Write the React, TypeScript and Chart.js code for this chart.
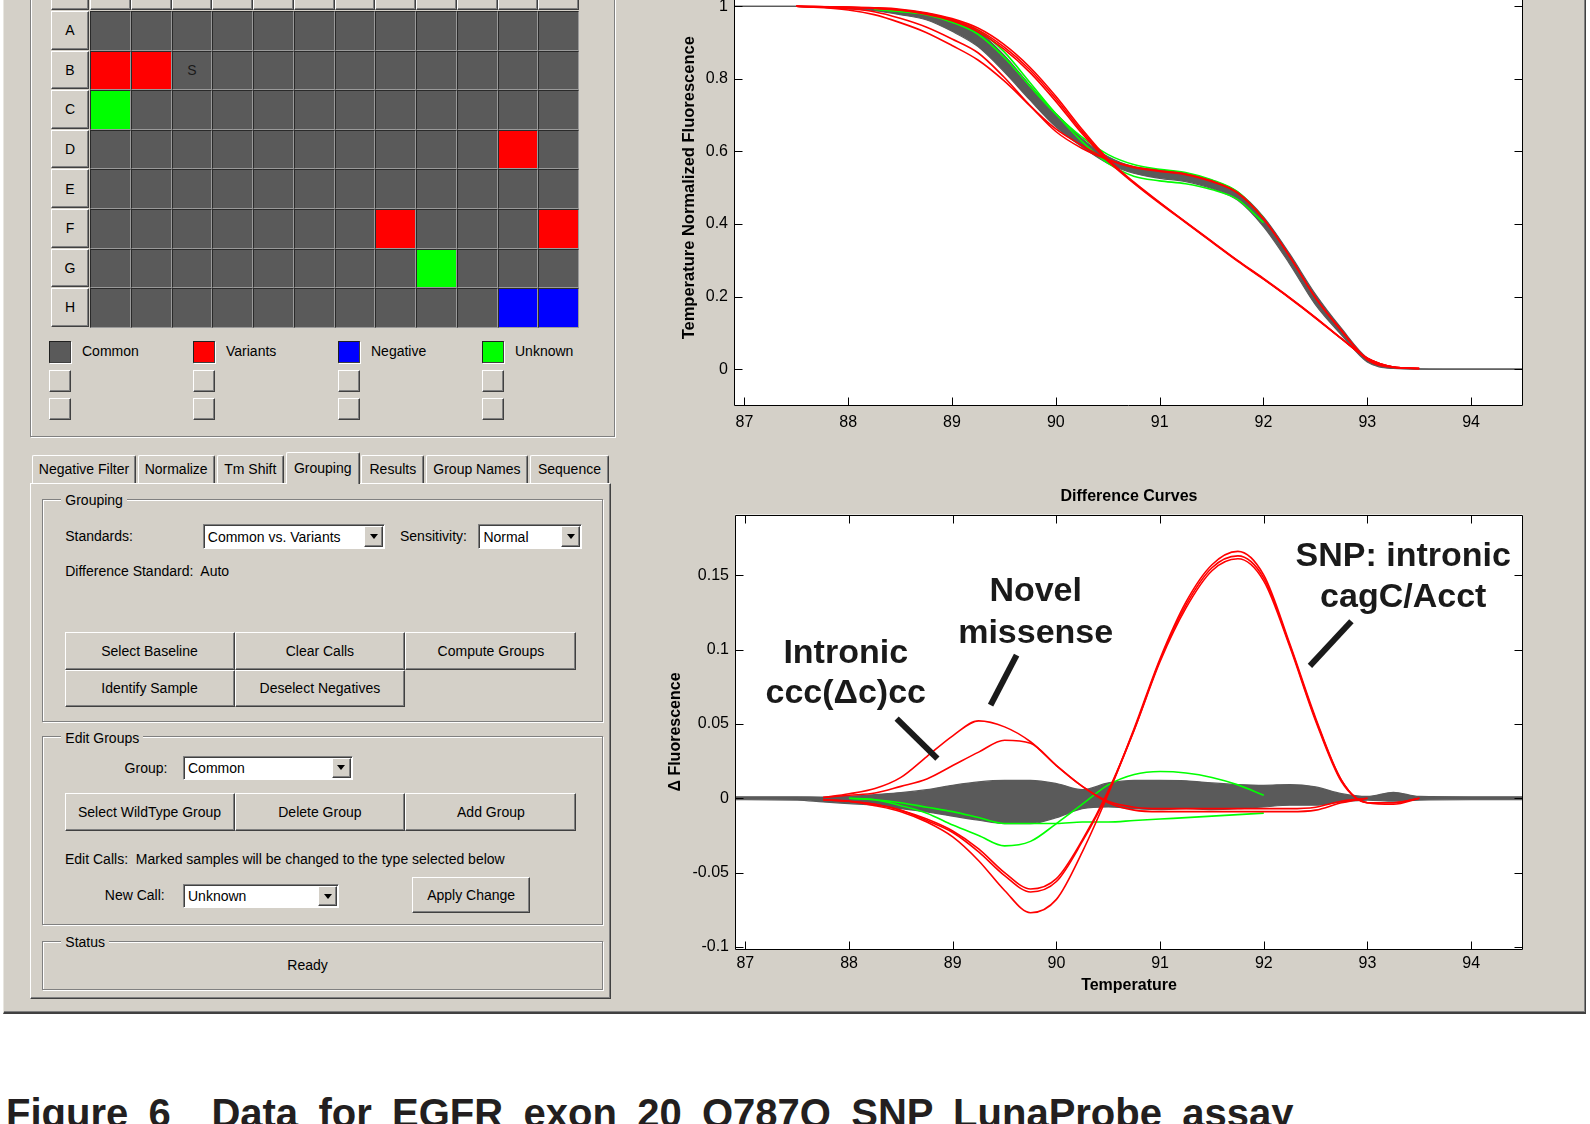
import React, { useEffect, useRef } from "react";
import { Chart, registerables } from "chart.js";

Chart.register(...registerables);

// ---------------- data: melt curves (top chart) ----------------
const topTemps = [86.9, 87.5, 88, 88.25, 88.5, 88.75, 89, 89.25, 89.5, 89.75, 90, 90.25, 90.5, 90.75, 91, 91.25, 91.5, 91.75, 92, 92.25, 92.5, 92.75, 93, 93.25, 93.5, 94, 94.5];
const topCommonHi = [1, 1, 0.997, 0.994, 0.99, 0.981, 0.963, 0.931, 0.866, 0.783, 0.705, 0.636, 0.586, 0.558, 0.549, 0.54, 0.521, 0.489, 0.42, 0.319, 0.207, 0.113, 0.031, 0.006, 0.001, 0, 0];
const topCommonLo = [1, 1, 0.993, 0.988, 0.977, 0.963, 0.931, 0.889, 0.82, 0.742, 0.668, 0.613, 0.567, 0.54, 0.526, 0.517, 0.498, 0.466, 0.393, 0.291, 0.178, 0.095, 0.02, 0.002, 0, 0, 0];
const topSnpA = [null, 1, 0.998, 0.996, 0.992, 0.982, 0.966, 0.94, 0.895, 0.832, 0.752, 0.662, 0.58, 0.516, 0.46, 0.406, 0.353, 0.3, 0.25, 0.198, 0.143, 0.085, 0.03, 0.006, 0.002, null, null];
const topSnpB = [null, 1, 0.997, 0.994, 0.989, 0.978, 0.96, 0.93, 0.882, 0.818, 0.738, 0.65, 0.574, 0.513, 0.457, 0.404, 0.351, 0.298, 0.248, 0.196, 0.141, 0.084, 0.03, 0.006, 0.002, null, null];
const topSnpC = [null, 1, 0.997, 0.995, 0.99, 0.98, 0.963, 0.935, 0.888, 0.825, 0.745, 0.656, 0.577, 0.514, 0.459, 0.405, 0.352, 0.299, 0.249, 0.197, 0.142, 0.084, 0.03, 0.006, 0.002, null, null];
const topIntronic = [null, 1, 0.99, 0.977, 0.955, 0.928, 0.892, 0.852, 0.795, 0.726, 0.655, 0.609, 0.578, 0.558, 0.547, 0.538, 0.519, 0.487, 0.415, 0.312, 0.198, 0.108, 0.028, 0.006, 0.002, null, null];
const topNovel = [null, 1, 0.994, 0.985, 0.967, 0.943, 0.91, 0.872, 0.805, 0.727, 0.662, 0.617, 0.578, 0.556, 0.545, 0.536, 0.517, 0.485, 0.414, 0.312, 0.197, 0.106, 0.026, 0.005, 0.002, null, null];
const topUnknown1 = [null, null, null, 0.992, 0.986, 0.979, 0.962, 0.934, 0.875, 0.79, 0.704, 0.628, 0.568, 0.532, 0.519, 0.511, 0.495, 0.468, 0.404, null, null, null, null, null, null, null, null];
const topUnknown2 = [null, null, null, 0.992, 0.986, 0.977, 0.956, 0.923, 0.86, 0.78, 0.703, 0.64, 0.592, 0.564, 0.551, 0.542, 0.522, 0.489, 0.417, null, null, null, null, null, null, null, null];

// ---------------- data: difference curves (bottom chart) ----------------
const diffTemps = [86.9, 87.5, 87.75, 88, 88.25, 88.5, 88.75, 89, 89.25, 89.5, 89.75, 90, 90.25, 90.5, 90.75, 91, 91.25, 91.5, 91.75, 92, 92.25, 92.5, 92.75, 93, 93.25, 93.5, 94, 94.5];
const diffCommonHi = [0.001, 0.001, 0.0008, 0.0013, 0.0025, 0.0038, 0.0058, 0.0087, 0.011, 0.012, 0.012, 0.0099, 0.0058, 0.0103, 0.012, 0.012, 0.0117, 0.0103, 0.0092, 0.0087, 0.0092, 0.0076, 0.0031, 0.0012, 0.004, 0.0012, 0.001, 0.001];
const diffCommonLo = [-0.001, -0.0012, -0.0025, -0.0036, -0.0047, -0.007, -0.0092, -0.0121, -0.0148, -0.017, -0.017, -0.013, -0.007, -0.0058, -0.007, -0.0076, -0.007, -0.0076, -0.007, -0.0058, -0.0047, -0.0047, -0.0025, -0.0012, -0.002, -0.0012, -0.001, -0.001];
const diffSnpA = [null, null, -0.001, -0.002, -0.005, -0.009, -0.016, -0.026, -0.042, -0.062, -0.077, -0.068, -0.036, 0.003, 0.047, 0.094, 0.132, 0.157, 0.166, 0.15, 0.104, 0.054, 0.012, -0.003, -0.003, 0, null, null];
const diffSnpB = [null, null, -0.001, -0.002, -0.004, -0.008, -0.014, -0.022, -0.034, -0.05, -0.061, -0.054, -0.028, 0.005, 0.046, 0.092, 0.128, 0.153, 0.161, 0.146, 0.102, 0.052, 0.011, -0.003, -0.004, 0, null, null];
const diffSnpC = [null, null, -0.001, -0.002, -0.004, -0.008, -0.015, -0.023, -0.036, -0.052, -0.063, -0.056, -0.029, 0.004, 0.046, 0.093, 0.13, 0.155, 0.163, 0.148, 0.103, 0.053, 0.012, -0.003, -0.003, 0, null, null];
const diffIntronic = [null, null, 0.0005, 0.003, 0.0065, 0.014, 0.028, 0.042, 0.052, 0.048, 0.038, 0.022, 0.008, -0.003, -0.008, -0.009, -0.009, -0.009, -0.009, -0.009, -0.009, -0.008, -0.003, 0, null, null, null, null];
const diffNovel = [null, null, 0.0005, 0.002, 0.0035, 0.008, 0.013, 0.022, 0.031, 0.039, 0.037, 0.022, 0.008, -0.002, -0.006, -0.007, -0.007, -0.007, -0.007, -0.007, -0.007, -0.006, -0.002, 0, null, null, null, null];
const diffUnknown1 = [null, null, null, 0, -0.001, -0.005, -0.01, -0.018, -0.025, -0.032, -0.029, -0.017, -0.004, 0.009, 0.016, 0.018, 0.017, 0.014, 0.009, 0.002, null, null, null, null, null, null, null, null];
const diffUnknown2 = [null, null, null, 0, -0.001, -0.003, -0.006, -0.009, -0.013, -0.017, -0.017, -0.017, -0.016, -0.016, -0.015, -0.014, -0.013, -0.012, -0.011, -0.01, null, null, null, null, null, null, null, null];

// ---------------- ticks ----------------
const tempTicks = [87, 88, 89, 90, 91, 92, 93, 94];
const meltTicks = [0, 0.2, 0.4, 0.6, 0.8, 1];
const diffTicks = [-0.1, -0.05, 0, 0.05, 0.1, 0.15];

// ---------------- annotations (data units) ----------------
const noteLabels = [
  { text: "SNP: intronic", t: 93.345, d: 0.1565 },
  { text: "cagC/Acct", t: 93.345, d: 0.1287 },
  { text: "Novel", t: 89.8, d: 0.1328 },
  { text: "missense", t: 89.8, d: 0.1045 },
  { text: "Intronic", t: 87.968, d: 0.0912 },
  { text: "ccc(\u0394c)cc", t: 87.968, d: 0.0641 },
];
const notePointers = [
  [89.616, 0.0962, 89.365, 0.0626],
  [88.459, 0.0536, 88.852, 0.0267],
  [92.845, 0.119, 92.445, 0.089],
];

// ---------------- plate ----------------
const plateRows = ["A", "B", "C", "D", "E", "F", "G", "H"];
const plateCalls = [
  "CCCCCCCCCCCC",
  "VVCCCCCCCCCC",
  "UCCCCCCCCCCC",
  "CCCCCCCCCCVC",
  "CCCCCCCCCCCC",
  "CCCCCCCVCCCV",
  "CCCCCCCCUCCC",
  "CCCCCCCCCCNN",
];
const legendItems = [
  { key: "C", label: "Common" },
  { key: "V", label: "Variants" },
  { key: "N", label: "Negative" },
  { key: "U", label: "Unknown" },
];
const tabItems = ["Negative Filter", "Normalize", "Tm Shift", "Grouping", "Results", "Group Names", "Sequence"];

// ---------------- styles ----------------
const FONT = '"Liberation Sans", Arial, Helvetica, sans-serif';
const RED = "#ff0000";
const GREEN = "#00ff00";
const GRAY = "#5a5a5a";
const WIN = "#d4d0c8";
const CALL_COLORS: Record<string, string> = { C: "#5a5a5a", V: "#ff0000", N: "#0000ff", U: "#00ff00" };

function pts(xs: number[], ys: (number | null)[]) {
  const out: { x: number; y: number }[] = [];
  xs.forEach((x, i) => {
    const y = ys[i];
    if (y !== null && y !== undefined) out.push({ x, y });
  });
  return out;
}

function curve(xs: number[], ys: (number | null)[], color: string, order: number) {
  return { data: pts(xs, ys), borderColor: color, borderWidth: 1.6, fill: false, order };
}

const matlabAxes = {
  id: "matlabAxes",
  beforeDatasetsDraw(chart: any) {
    const { ctx, chartArea: a } = chart;
    ctx.save();
    ctx.fillStyle = "#fff";
    ctx.fillRect(a.left, a.top, a.right - a.left, a.bottom - a.top);
    ctx.restore();
  },
  afterDatasetsDraw(chart: any) {
    const { ctx, chartArea: a, scales } = chart;
    const xs = scales.x;
    const ys = scales.y;
    const L = Math.round(a.left) + 0.5;
    const R = Math.round(a.right) - 0.5;
    const T = Math.round(a.top) + 0.5;
    const B = Math.round(a.bottom) - 0.5;
    ctx.save();
    ctx.strokeStyle = "#000";
    ctx.lineWidth = 1;
    ctx.beginPath();
    ctx.rect(L, T, R - L, B - T);
    xs.ticks.forEach((t: any) => {
      const p = Math.round(xs.getPixelForValue(t.value)) + 0.5;
      ctx.moveTo(p, B);
      ctx.lineTo(p, B - 8);
      ctx.moveTo(p, T);
      ctx.lineTo(p, T + 8);
    });
    ys.ticks.forEach((t: any) => {
      const p = Math.round(ys.getPixelForValue(t.value)) + 0.5;
      ctx.moveTo(L, p);
      ctx.lineTo(L + 8, p);
      ctx.moveTo(R, p);
      ctx.lineTo(R - 8, p);
    });
    ctx.stroke();
    ctx.restore();
  },
};

const diffNotes = {
  id: "diffNotes",
  afterDatasetsDraw(chart: any) {
    const { ctx, scales } = chart;
    const x = scales.x;
    const y = scales.y;
    ctx.save();
    ctx.strokeStyle = "#1a1a1a";
    ctx.lineWidth = 6;
    ctx.lineCap = "butt";
    notePointers.forEach((l) => {
      ctx.beginPath();
      ctx.moveTo(x.getPixelForValue(l[0]), y.getPixelForValue(l[1]));
      ctx.lineTo(x.getPixelForValue(l[2]), y.getPixelForValue(l[3]));
      ctx.stroke();
    });
    ctx.fillStyle = "#1a1a1a";
    ctx.font = `bold 34px ${FONT}`;
    ctx.textAlign = "center";
    ctx.textBaseline = "alphabetic";
    noteLabels.forEach((n) => ctx.fillText(n.text, x.getPixelForValue(n.t), y.getPixelForValue(n.d)));
    ctx.restore();
  },
};

function baseOptions(yMin: number, yMax: number, yTicks: number[], yWidth: number, xHeight: number, xPad: number) {
  return {
    animation: false,
    responsive: false,
    devicePixelRatio: 1,
    events: [],
    elements: { point: { radius: 0 }, line: { cubicInterpolationMode: "monotone", borderJoinStyle: "round" } },
    plugins: { legend: { display: false }, tooltip: { enabled: false } },
    scales: {
      x: {
        type: "linear",
        min: 86.9,
        max: 94.5,
        afterBuildTicks: (s: any) => { s.ticks = tempTicks.map((v) => ({ value: v })); },
        afterFit: (s: any) => { s.height = xHeight; },
        grid: { display: false, drawTicks: false },
        border: { display: false },
        ticks: { color: "#000", font: { family: FONT, size: 16 }, padding: xPad, autoSkip: false, maxRotation: 0, callback: (v: any) => String(v) },
      },
      y: {
        type: "linear",
        min: yMin,
        max: yMax,
        afterBuildTicks: (s: any) => { s.ticks = yTicks.map((v) => ({ value: v })); },
        afterFit: (s: any) => { s.width = yWidth; },
        grid: { display: false, drawTicks: false },
        border: { display: false },
        ticks: { color: "#000", font: { family: FONT, size: 16 }, padding: 6, autoSkip: false, callback: (v: any) => String(v) },
      },
    },
  } as any;
}

function makeTop(canvas: HTMLCanvasElement) {
  const options = baseOptions(-0.1, 1.1, meltTicks, 94, 44.5, 7);
  options.layout = { padding: { top: 16, right: 17, left: 0, bottom: 0 } };
  options.scales.y.title = {
    display: true,
    text: "Temperature Normalized Fluorescence",
    color: "#000",
    font: { family: FONT, size: 16.5, weight: "bold" },
    padding: { top: 40, bottom: 0 },
  };
  return new Chart(canvas, {
    type: "line",
    data: {
      datasets: [
        curve(topTemps, topSnpA, RED, 0),
        curve(topTemps, topSnpB, RED, 0),
        curve(topTemps, topSnpC, RED, 0),
        curve(topTemps, topIntronic, RED, 0),
        curve(topTemps, topNovel, RED, 0),
        curve(topTemps, topUnknown1, GREEN, 1),
        curve(topTemps, topUnknown2, GREEN, 1),
        { data: pts(topTemps, topCommonHi), borderColor: GRAY, borderWidth: 1.2, fill: false, order: 2 },
        { data: pts(topTemps, topCommonLo), borderColor: GRAY, borderWidth: 1.2, backgroundColor: GRAY, fill: "-1", order: 2 },
      ],
    } as any,
    options,
    plugins: [matlabAxes],
  });
}

function makeDiff(canvas: HTMLCanvasElement) {
  const options = baseOptions(-0.1017, 0.1908, diffTicks, 95, 50.5, 4);
  options.layout = { padding: { top: 0, right: 17, left: 0, bottom: 0 } };
  options.plugins.title = {
    display: true,
    text: "Difference Curves",
    fullSize: false,
    color: "#000",
    font: { family: FONT, size: 16, weight: "bold" },
    padding: { top: 16.9, bottom: 8.4 },
  };
  options.scales.x.title = {
    display: true,
    text: "Temperature",
    color: "#000",
    font: { family: FONT, size: 16, weight: "bold" },
    padding: { top: 0, bottom: 5 },
  };
  options.scales.y.title = {
    display: true,
    text: "\u0394 Fluorescence",
    color: "#000",
    font: { family: FONT, size: 16, weight: "bold" },
    padding: { top: 26.4, bottom: 0 },
  };
  return new Chart(canvas, {
    type: "line",
    data: {
      datasets: [
        curve(diffTemps, diffSnpA, RED, 0),
        curve(diffTemps, diffSnpB, RED, 0),
        curve(diffTemps, diffSnpC, RED, 0),
        curve(diffTemps, diffIntronic, RED, 0),
        curve(diffTemps, diffNovel, RED, 0),
        curve(diffTemps, diffUnknown1, GREEN, 1),
        curve(diffTemps, diffUnknown2, GREEN, 1),
        { data: pts(diffTemps, diffCommonHi), borderColor: GRAY, borderWidth: 1.2, fill: false, order: 2 },
        { data: pts(diffTemps, diffCommonLo), borderColor: GRAY, borderWidth: 1.2, backgroundColor: GRAY, fill: "-1", order: 2 },
      ],
    } as any,
    options,
    plugins: [matlabAxes, diffNotes],
  });
}

function ChartCanvas({ left, top, width, height, make }: any) {
  const ref = useRef<HTMLCanvasElement>(null);
  useEffect(() => {
    const c = make(ref.current as HTMLCanvasElement);
    return () => c.destroy();
  }, []);
  return <canvas ref={ref} width={width} height={height} style={{ position: "absolute", left, top, width, height }} />;
}

// ---------------- UI helpers ----------------
const box = (x: number, y: number, w: number, h: number): React.CSSProperties => ({
  position: "absolute", left: x, top: y, width: w, height: h, boxSizing: "border-box",
});
const raised: React.CSSProperties = {
  background: WIN,
  borderTop: "1px solid #ffffff",
  borderLeft: "1px solid #ffffff",
  borderRight: "1px solid #404040",
  borderBottom: "1px solid #404040",
  boxShadow: "inset -1px -1px 0 #808080",
};
const textBase: React.CSSProperties = { fontFamily: FONT, fontSize: 14, color: "#000", whiteSpace: "pre" };

function Btn({ x, y, w, h, label }: any) {
  return (
    <div style={{ ...box(x, y, w, h), ...raised, ...textBase, display: "flex", alignItems: "center", justifyContent: "center" }}>{label}</div>
  );
}

function Label({ x, y, text, center }: any) {
  return (
    <div style={{ position: "absolute", left: x, top: y - 9, lineHeight: "18px", ...textBase, transform: center ? "translateX(-50%)" : undefined }}>{text}</div>
  );
}

function Combo({ x, y, w, h, text }: any) {
  return (
    <div style={{ ...box(x, y, w, h), background: "#fff", borderTop: "1px solid #808080", borderLeft: "1px solid #808080", borderRight: "1px solid #fff", borderBottom: "1px solid #fff", boxShadow: "inset 1px 1px 0 #404040" }}>
      <div style={{ position: "absolute", left: 4, top: 0, bottom: 0, display: "flex", alignItems: "center", ...textBase }}>{text}</div>
      <div style={{ position: "absolute", right: 1, top: 1, bottom: 1, width: 19, boxSizing: "border-box", ...raised, display: "flex", alignItems: "center", justifyContent: "center" }}>
        <div style={{ width: 0, height: 0, borderLeft: "4px solid transparent", borderRight: "4px solid transparent", borderTop: "5px solid #000" }} />
      </div>
    </div>
  );
}

function GroupBox({ x, y, w, h, label }: any) {
  return (
    <>
      <div style={{ ...box(x, y, w, h), border: "1px solid #808080", boxShadow: "1px 1px 0 #fff, inset 1px 1px 0 #fff" }} />
      {label ? (
        <div style={{ position: "absolute", left: x + 19, top: y - 7.5, lineHeight: "18px", padding: "0 4px", background: WIN, ...textBase }}>{label}</div>
      ) : null}
    </>
  );
}

function Plate() {
  const x0 = 90;
  const y0 = 11;
  const cw = 40.75;
  const rh = 39.6;
  const items: any[] = [];
  items.push(<div key="corner" style={{ ...box(51, -10, 38, 19.5), ...raised }} />);
  for (let c = 0; c < 12; c++) {
    items.push(<div key={"ch" + c} style={{ ...box(x0 + c * cw, -10, cw, 19.5), ...raised }} />);
  }
  plateRows.forEach((r, ri) => {
    items.push(
      <div key={"rh" + r} style={{ ...box(51, y0 + ri * rh, 38, rh - 1), ...raised, ...textBase, display: "flex", alignItems: "center", justifyContent: "center" }}>{r}</div>
    );
    plateCalls[ri].split("").forEach((call, ci) => {
      const isS = ri === 1 && ci === 2;
      items.push(
        <div
          key={"c" + ri + "_" + ci}
          style={{
            ...box(x0 + ci * cw, y0 + ri * rh, cw, rh),
            background: CALL_COLORS[call],
            borderTop: "1px solid #2a2a2a",
            borderLeft: "1px solid #2a2a2a",
            borderRight: "1px solid #9a9a9a",
            borderBottom: "1px solid #9a9a9a",
            ...textBase,
            color: "#1a1a1a",
            display: "flex",
            alignItems: "center",
            justifyContent: "center",
          }}
        >
          {isS ? "S" : ""}
        </div>
      );
    });
  });
  const legendX = [49, 193, 338, 482];
  legendItems.forEach((it, i) => {
    const lx = legendX[i];
    items.push(
      <div key={"lg" + i} style={{ ...box(lx, 341, 22, 22), background: CALL_COLORS[it.key], borderTop: "1px solid #202020", borderLeft: "1px solid #202020", borderRight: "1px solid #404040", borderBottom: "1px solid #404040", boxShadow: "1px 1px 0 #fff" }} />
    );
    items.push(<Label key={"lt" + i} x={lx + 33} y={351} text={it.label} />);
    items.push(<div key={"lb1" + i} style={{ ...box(lx, 370, 22, 22), ...raised }} />);
    items.push(<div key={"lb2" + i} style={{ ...box(lx, 398, 22, 21.5), ...raised }} />);
  });
  return <>{items}</>;
}

function Tabs() {
  const xs = [31.6, 137.6, 216.7, 285.5, 361.4, 425.9, 529.9];
  const ws = [104.8, 77.1, 67.3, 74.5, 62.9, 102, 79.1];
  return (
    <>
      {tabItems.map((t, i) => {
        const active = t === "Grouping";
        const top = active ? 451.9 : 454.8;
        const h = active ? 484.2 - top : 482.6 - top;
        return (
          <div
            key={t}
            style={{
              ...box(xs[i], top, ws[i], h),
              background: WIN,
              borderTop: "1px solid #fff",
              borderLeft: "1px solid #fff",
              borderRight: "1px solid #404040",
              boxShadow: "inset -1px 0 0 #808080",
              borderTopLeftRadius: 2,
              borderTopRightRadius: 2,
              zIndex: active ? 3 : 1,
              ...textBase,
              display: "flex",
              alignItems: "center",
              justifyContent: "center",
              paddingBottom: active ? 2 : 0,
            }}
          >
            {t}
          </div>
        );
      })}
    </>
  );
}

export default function App() {
  return (
    <div style={{ position: "fixed", left: 0, top: 0, width: 1590, height: 1124, overflow: "hidden", background: "#fff" }}>
      {/* application window */}
      <div style={{ ...box(3, -3, 1583, 1017), background: WIN, borderLeft: "1px solid #e8e6e0", borderRight: "1px solid #404040", borderBottom: "2px solid #404040", boxShadow: "inset -1px -1px 0 #808080" }} />

      {/* plate panel */}
      <GroupBox x={30} y={-4} w={585} h={440.7} />
      <Plate />

      {/* tab control */}
      <div style={{ ...box(29.7, 482.6, 581.3, 516.4), ...raised, zIndex: 2 }} />
      <Tabs />
      <div style={{ position: "absolute", left: 0, top: 0, zIndex: 4 }}>
        <GroupBox x={42.3} y={498.5} w={560.7} h={223} label="Grouping" />
        <Label x={65.2} y={536} text="Standards:" />
        <Combo x={202.8} y={524.4} w={182.7} h={24.9} text="Common vs. Variants" />
        <Label x={400} y={536} text="Sensitivity:" />
        <Combo x={478.4} y={524.4} w={104} h={24.9} text="Normal" />
        <Label x={65.2} y={571} text={"Difference Standard:  Auto"} />
        <Btn x={64.5} y={631.9} w={170} h={37.7} label="Select Baseline" />
        <Btn x={234.5} y={631.9} w={170.8} h={37.7} label="Clear Calls" />
        <Btn x={405.3} y={631.9} w={171.2} h={37.7} label="Compute Groups" />
        <Btn x={64.5} y={669.6} w={170} h={37.8} label="Identify Sample" />
        <Btn x={234.5} y={669.6} w={170.8} h={37.8} label="Deselect Negatives" />

        <GroupBox x={42.3} y={736.3} w={560.7} h={189} label="Edit Groups" />
        <Label x={124.6} y={767.8} text="Group:" />
        <Combo x={183} y={755.6} w={169.7} h={24.4} text="Common" />
        <Btn x={64.5} y={793} w={170} h={37.7} label="Select WildType Group" />
        <Btn x={234.5} y={793} w={170.8} h={37.7} label="Delete Group" />
        <Btn x={405.3} y={793} w={171.2} h={37.7} label="Add Group" />
        <Label x={65} y={859} text={"Edit Calls:  Marked samples will be changed to the type selected below"} />
        <Label x={104.8} y={894.5} text="New Call:" />
        <Combo x={183} y={883.7} w={156.3} h={24.8} text="Unknown" />
        <Btn x={412.4} y={877} w={117.5} h={36.3} label="Apply Change" />

        <GroupBox x={42.3} y={940.7} w={560.7} h={49.3} label="Status" />
        <Label x={307.6} y={965} text="Ready" center />
      </div>

      {/* charts */}
      <ChartCanvas left={640} top={-46} width={900} height={496} make={makeTop} />
      <ChartCanvas left={640} top={470} width={900} height={530} make={makeDiff} />

      {/* caption */}
      <div style={{ position: "absolute", left: 6, top: 1093, fontFamily: FONT, fontWeight: "bold", fontSize: 40, lineHeight: "40px", whiteSpace: "pre", wordSpacing: 9.2, color: "#231f20" }}>
        Figure 6  Data for EGFR exon 20 Q787Q SNP LunaProbe assay
      </div>
    </div>
  );
}
